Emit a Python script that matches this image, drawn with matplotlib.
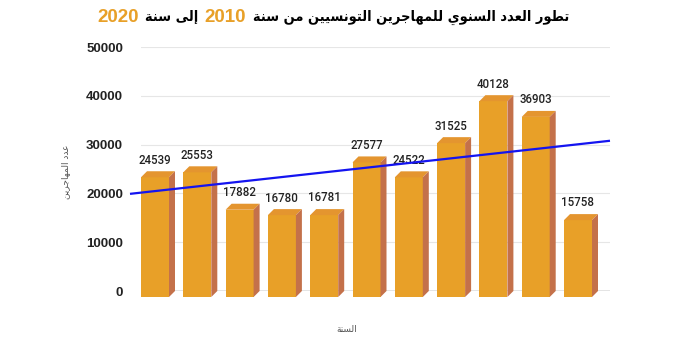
import numpy as np
import matplotlib
matplotlib.use("Agg")
import matplotlib.pyplot as plt
from matplotlib.patches import Rectangle, Polygon

# ---- data -------------------------------------------------------------
years = [2010, 2011, 2012, 2013, 2014, 2015, 2016, 2017, 2018, 2019, 2020]
migrants = [24539, 25553, 17882, 16780, 16781, 27577, 24522, 31525, 40128, 36903, 15758]
y_ticks = [0, 10000, 20000, 30000, 40000, 50000]

title_parts = [("تطور العدد السنوي للمهاجرين التونسيين من سنة", "black"),
               ("2010", "#E8A028"),
               ("إلى سنة", "black"),
               ("2020", "#E8A028")]
x_title = "السنة"
y_title = "عدد المهاجرين"

# ---- minimal Arabic shaping (presentation forms B + visual order) ------
def _forms_table():
    table = {}
    pos = 0xFE80
    runs = [(0x0621, [1, 2, 2, 2, 2, 4, 2, 4, 2, 4, 4, 4, 4, 4, 2, 2, 2, 2,
                      4, 4, 4, 4, 4, 4, 4, 4]),
            (0x0641, [4, 4, 4, 4, 4, 4, 4, 2, 2, 4])]
    for first, counts in runs:
        for k, n in enumerate(counts):
            table[chr(first + k)] = [chr(pos + j) for j in range(n)]
            pos += n
    return table

FORMS = _forms_table()


def shape_arabic(s):
    out = []
    for i, ch in enumerate(s):
        forms = FORMS.get(ch)
        if forms is None:
            out.append(ch)
            continue
        prev = s[i - 1] if i > 0 else ""
        nxt = s[i + 1] if i + 1 < len(s) else ""
        join_prev = prev in FORMS and len(FORMS[prev]) == 4
        join_next = len(forms) == 4 and nxt in FORMS
        if join_prev and join_next:
            out.append(forms[3])
        elif join_prev:
            out.append(forms[1] if len(forms) > 1 else forms[0])
        elif join_next:
            out.append(forms[2])
        else:
            out.append(forms[0])
    return "".join(reversed(out))


def is_arabic(s):
    return any(ch in FORMS for ch in s)

# ---- figure -----------------------------------------------------------
W, H, DPI = 680, 340, 100
fig = plt.figure(figsize=(W / DPI, H / DPI), dpi=DPI)
ax_left, ax_right, ax_bottom, ax_top = 141, 610, 291, 47
ax = fig.add_axes([ax_left / W, (H - ax_bottom) / H,
                   (ax_right - ax_left) / W, (ax_bottom - ax_top) / H])

pitch = 42.3                    # px between bar centres
bar_w = 28 / pitch              # front face width in data units
n = len(migrants)
x = np.arange(n)
x_lo = -bar_w / 2
x_hi = x_lo + (ax_right - ax_left) / pitch
ax.set_xlim(x_lo, x_hi)
ax.set_ylim(0, 50000)

# depth of the 3D bars
dx = 6 / pitch
dy = 6 * 50000 / (ax_bottom - ax_top)

front_c = "#E8A028"
top_c = "#E4952F"
side_c = "#C4714A"

for xi, v in zip(x, migrants):
    l, r = xi - bar_w / 2, xi + bar_w / 2
    ax.add_patch(Rectangle((l, -dy), bar_w, v, facecolor=front_c,
                           edgecolor="none", clip_on=False, zorder=3))
    ax.add_patch(Polygon([(l, v - dy), (r, v - dy), (r + dx, v), (l + dx, v)],
                         closed=True, facecolor=top_c, edgecolor="none",
                         clip_on=False, zorder=3))
    ax.add_patch(Polygon([(r, -dy), (r + dx, 0), (r + dx, v), (r, v - dy)],
                         closed=True, facecolor=side_c, edgecolor="none",
                         clip_on=False, zorder=3))
    ax.annotate(f"{v}", xy=(xi, v), xytext=(0, 8), textcoords="offset points",
                ha="center", va="center", fontsize=8.3, color="#222222",
                family=["Roboto", "DejaVu Sans"], fontweight="medium",
                zorder=4)

# linear trend line
coef = np.polyfit(x, migrants, 1)
tx = np.array([x_lo - 11 / pitch, x_hi])
ax.plot(tx, np.polyval(coef, tx), color="#1414F0", lw=1.6,
        clip_on=False, zorder=6, solid_capstyle="butt")

# grid and axes
for t in y_ticks[1:]:
    ax.axhline(t, color="#E6E6E6", lw=0.8, zorder=1)
ax.axhline(0, color="#777777", lw=1.0, zorder=2)
for s in ax.spines.values():
    s.set_visible(False)
ax.set_xticks([])
ax.set_yticks(y_ticks)
ax.set_yticklabels([str(t) for t in y_ticks], fontsize=9.5, fontweight="bold",
                   family=["Liberation Sans", "DejaVu Sans"], color="#222222")
ax.tick_params(axis="y", length=0, pad=13)

# axis titles
fig.text(347 / W, 1 - 330 / H, shape_arabic(x_title), ha="center", va="center",
         fontsize=6.5, color="#555555", family="DejaVu Sans")
fig.text(66 / W, 1 - 172 / H, shape_arabic(y_title), ha="center", va="center",
         rotation=90, fontsize=6.5, color="#555555", family="DejaVu Sans")

# title: right-to-left sequence of coloured pieces
title_left, title_right = 97, 568
gap = 6.5
visual = list(reversed(title_parts))
texts = []
for s, c in visual:
    arabic = is_arabic(s)
    txt = shape_arabic(s) if arabic else s
    if arabic:
        t = fig.text(0, 1 - 17 / H, txt, ha="left", va="center",
                     fontsize=10, fontweight="bold", color=c,
                     family="DejaVu Sans", fontstretch="condensed")
    else:
        t = fig.text(0, 1 - 17 / H, txt, ha="left", va="center",
                     fontsize=13.5, fontweight="bold", color=c,
                     family="Liberation Sans")
    texts.append((t, arabic))
renderer = fig.canvas.get_renderer()
w_num = sum(t.get_window_extent(renderer).width for t, a in texts if not a)
w_ar = sum(t.get_window_extent(renderer).width for t, a in texts if a)
room = (title_right - title_left) - w_num - gap * (len(texts) - 1)
scale = room / w_ar
for t, a in texts:
    if a:
        t.set_fontsize(10 * scale)
xpos = title_left
for t, a in texts:
    t.set_x(xpos / W)
    xpos += t.get_window_extent(renderer).width + gap

fig.savefig("out.png", dpi=DPI)
